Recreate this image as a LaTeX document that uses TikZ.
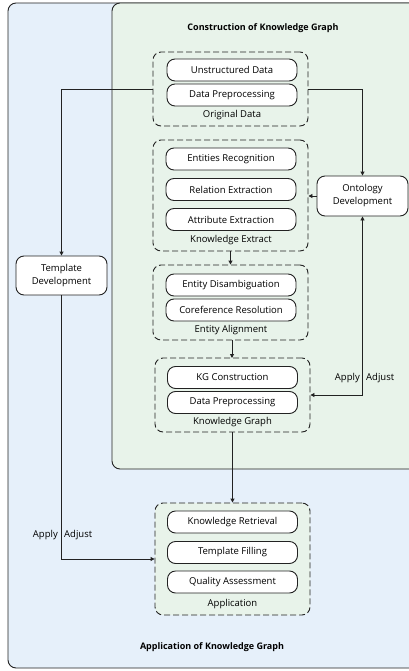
\documentclass[tikz,border=0pt]{standalone}
\usepackage{fontspec}
\setmainfont{Open Sans}
\usetikzlibrary{arrows.meta}
\definecolor{appblue}{HTML}{E6F0FA}
\definecolor{kggreen}{HTML}{E8F3EA}
\definecolor{linegray}{HTML}{222222}
\tikzset{
  frame/.style={draw=linegray, line width=0.9pt, rounded corners=8pt},
  group/.style={draw=linegray, line width=0.9pt, dash pattern=on 6pt off 3pt,
    rounded corners=8pt, fill=kggreen, minimum width=155pt, inner sep=0pt},
  item/.style={draw=linegray, line width=0.9pt, rounded corners=8pt, fill=white,
    minimum width=130pt, minimum height=22pt, inner sep=0pt, font=\fontsize{9.5}{11}\selectfont},
  side/.style={draw=linegray, line width=0.9pt, rounded corners=8pt, fill=white,
    minimum width=91pt, inner sep=0pt, align=center, font=\fontsize{9.5}{13}\selectfont},
  lbl/.style={font=\fontsize{9.5}{11}\selectfont, inner sep=0pt},
  ttl/.style={font=\bfseries\fontsize{9}{10}\selectfont, inner sep=0pt},
  conn/.style={draw=linegray, line width=0.9pt},
  arr/.style={conn, -{Triangle[length=4pt,width=4pt]}},
}
\begin{document}
\begin{tikzpicture}[x=1pt,y=-1pt]
\useasboundingbox (0,0) rectangle (409,671);
\clip (0,0) rectangle (409,671);
% outer areas
\draw[frame, fill=appblue] (8,3) rectangle (430,668);
\draw[frame, fill=kggreen] (112,3) rectangle (430,469);
\node[ttl] (ttlC) at (263,28) {Construction of Knowledge Graph};
\node[ttl] (ttlA) at (212,647) {Application of Knowledge Graph};

% dashed groups
\node[group, minimum height=74pt]  (gOD) at (230.5,89) {};
\node[group, minimum height=111pt] (gKE) at (230.5,195.5) {};
\node[group, minimum height=75pt]  (gEA) at (230.5,302.5) {};
\node[group, minimum height=74pt]  (gKG) at (232.5,395) {};
\node[group, minimum height=112pt] (gAP) at (232.5,559) {};

% items
\node[item] (ud)  at (232,70) {Unstructured Data};
\node[item] (dp1) at (232,95) {Data Preprocessing};
\node[lbl]  (lOD) at (232,115) {Original Data};

\node[item] (er)  at (231,159) {Entities Recognition};
\node[item] (re)  at (231,189.5) {Relation Extraction};
\node[item] (ae)  at (231,219.5) {Attribute Extraction};
\node[lbl]  (lKE) at (231,240) {Knowledge Extract};

\node[item] (ed)  at (231,285) {Entity Disambiguation};
\node[item] (cr)  at (231,310) {Coreference Resolution};
\node[lbl]  (lEA) at (231,330) {Entity Alignment};

\node[item] (kgc) at (232.5,377.5) {KG Construction};
\node[item] (dp2) at (232.5,402.5) {Data Preprocessing};
\node[lbl]  (lKG) at (232.5,422) {Knowledge Graph};

\node[item] (kr)  at (232.5,522) {Knowledge Retrieval};
\node[item] (tf)  at (232.5,552.5) {Template Filling};
\node[item] (qa)  at (232.5,582) {Quality Assessment};
\node[lbl]  (lAP) at (232.5,604) {Application};

% side boxes
\node[side, minimum height=40pt] (onto) at (362.5,196) {Ontology\\Development};
\node[side, minimum height=39pt] (tmpl) at (61.5,275.5) {Template\\Development};

% connectors
\draw[arr] (gOD.west) -| (tmpl.north);
\draw[arr] (gOD.east) -| (onto.north);
\draw[arr] (onto.west) -- (gKE.east |- onto.west);
\draw[arr] (gKE.south) -- (gKE.south |- gEA.north);
\draw[arr] (232,340) -- (232,358);
\draw[arr] (gKG.south) -- (gKG.south |- gAP.north);
\draw[arr, {Triangle[length=4pt,width=4pt]}-{Triangle[length=4pt,width=4pt]}] (onto.south) |- (gKG.east);
\draw[arr] (tmpl.south) |- (gAP.west);

% feedback labels
\node[lbl, anchor=east] (ap1) at (360,378) {Apply};
\node[lbl, anchor=west] (ad1) at (366,378) {Adjust};
\node[lbl, anchor=east] (ap2) at (58,535) {Apply};
\node[lbl, anchor=west] (ad2) at (64,535) {Adjust};
\end{tikzpicture}
\end{document}
